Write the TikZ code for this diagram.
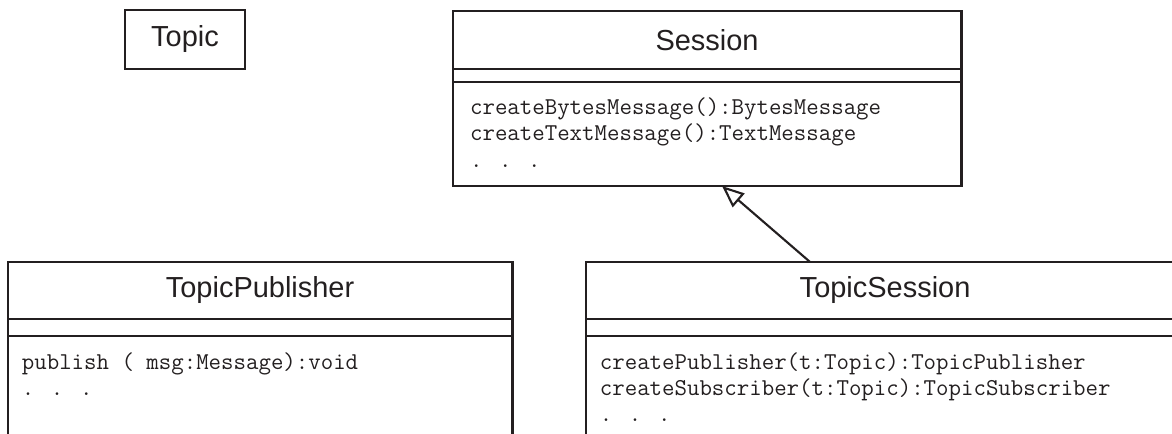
\documentclass[tikz,border=0pt]{standalone}
\usepackage{fontspec}
\setmainfont{Liberation Sans}
\usepackage{tikz}
\usetikzlibrary{arrows.meta,positioning}
\definecolor{umlink}{RGB}{35,31,32}
\tikzset{
  umlbox/.style={rectangle,draw=umlink,line width=2pt,outer sep=0pt,inner sep=0pt},
  namebox/.style={umlbox,text=umlink,font=\fontsize{20.6}{24}\selectfont},
  attrbox/.style={umlbox},
  opsbox/.style={umlbox},
  optext/.style={anchor=north west,inner sep=0pt,align=left,text=umlink,
                 font=\ttfamily\fontsize{17.2}{18.8}\selectfont},
  genarr/.style={-{Triangle[open,length=0.55cm,width=0.45cm]},line width=1.5pt,draw=umlink}
}

\begin{document}
\begin{tikzpicture}[x=0.025cm,y=-0.025cm]
  \useasboundingbox (0,0) rectangle (1172,434);
  \clip (0,0) rectangle (1172,434);

  \node[namebox,minimum width=3cm,minimum height=1.475cm,anchor=north west] (topic) at (125,10) {Topic};

  % Session class
  \node[namebox,minimum width=12.7cm,minimum height=1.45cm,anchor=north west] (sessName) at (453,11) {Session};
  \node[attrbox,minimum width=12.7cm,minimum height=0.325cm,below=0pt of sessName] (sessAttr) {};
  \node[opsbox,minimum width=12.7cm,minimum height=2.6cm,below=0pt of sessAttr] (sessOps) {};
  \node[optext] (sessTxt) at ([xshift=0.42cm,yshift=-0.38cm]sessOps.north west)
      {createBytesMessage():BytesMessage\\createTextMessage():TextMessage\\. . .};

  % TopicPublisher class
  \node[namebox,minimum width=12.6cm,minimum height=1.425cm,anchor=north west] (pubName) at (8,262) {TopicPublisher};
  \node[attrbox,minimum width=12.6cm,minimum height=0.425cm,below=0pt of pubName] (pubAttr) {};
  \node[opsbox,minimum width=12.6cm,minimum height=3cm,below=0pt of pubAttr] (pubOps) {};
  \node[optext] (pubTxt) at ([xshift=0.34cm,yshift=-0.4cm]pubOps.north west)
      {publish ( msg:Message):void\\. . .};

  % TopicSession class
  \node[namebox,minimum width=14.95cm,minimum height=1.425cm,anchor=north west] (tsName) at (586,262) {TopicSession};
  \node[attrbox,minimum width=14.95cm,minimum height=0.425cm,below=0pt of tsName] (tsAttr) {};
  \node[opsbox,minimum width=14.95cm,minimum height=3cm,below=0pt of tsAttr] (tsOps) {};
  \node[optext] (tsTxt) at ([xshift=0.34cm,yshift=-0.4cm]tsOps.north west)
      {createPublisher(t:Topic):TopicPublisher\\createSubscriber(t:Topic):TopicSubscriber\\. . .};

  % generalisation
  \draw[genarr] ([xshift=5.6cm]tsName.north west) -- ([xshift=6.725cm]sessOps.south west);
\end{tikzpicture}
\end{document}
